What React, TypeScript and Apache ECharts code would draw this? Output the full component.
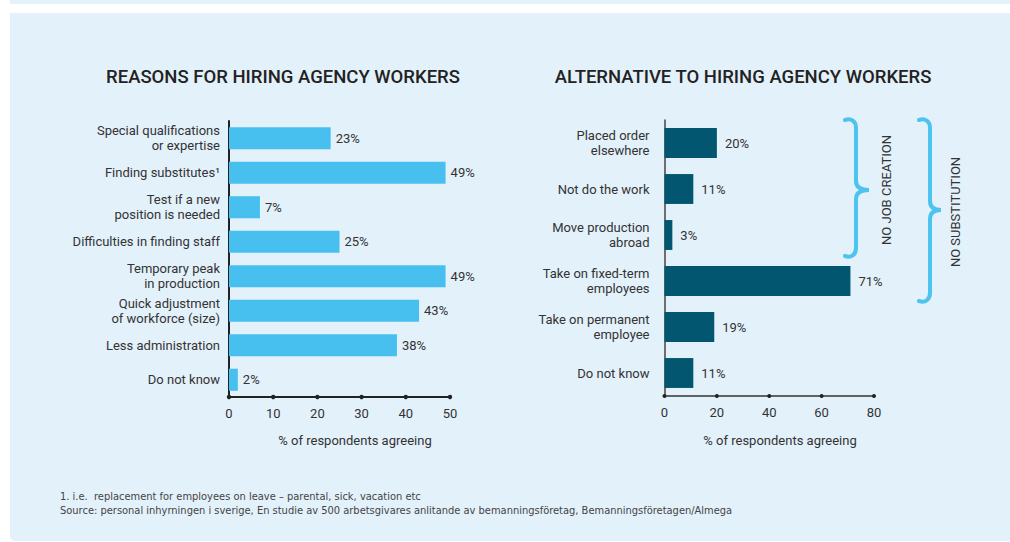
import React, { useEffect, useRef } from "react";
import * as echarts from "echarts";

const leftCategories = [
  "Special qualifications\nor expertise",
  "Finding substitutes¹",
  "Test if a new\nposition is needed",
  "Difficulties in finding staff",
  "Temporary peak\nin production",
  "Quick adjustment\nof workforce (size)",
  "Less administration",
  "Do not know",
];
const leftValues = [23, 49, 7, 25, 49, 43, 38, 2];
const leftTicks = [0, 10, 20, 30, 40, 50];

const rightCategories = [
  "Placed order\nelsewhere",
  "Not do the work",
  "Move production\nabroad",
  "Take on fixed-term\nemployees",
  "Take on permanent\nemployee",
  "Do not know",
];
const rightValues = [20, 11, 3, 71, 19, 11];
const rightTicks = [0, 20, 40, 60, 80];

const leftTitle = "REASONS FOR HIRING AGENCY WORKERS";
const rightTitle = "ALTERNATIVE TO HIRING AGENCY WORKERS";
const axisName = "% of respondents agreeing";
const bracketLabels = ["NO JOB CREATION", "NO SUBSTITUTION"];
const footnotes = [
  "1. i.e.  replacement for employees on leave – parental, sick, vacation etc",
  "Source: personal inhyrningen i sverige, En studie av 500 arbetsgivares anlitande av bemanningsföretag, Bemanningsföretagen/Almega",
];

const FONT = "Roboto";
const TEXT = "#333333";

function bracePath(h: number, m: number, w: number) {
  return `M0,2 C6,0 11,3 11,10 L11,${m - 9} C11,${m - 3} 15,${m} ${w},${m} C15,${m} 11,${m + 3} 11,${m + 9} L11,${h - 10} C11,${h - 3} 6,${h} 0,${h - 2}`;
}

let registered = false;
function registerShapes() {
  if (registered) return;
  registered = true;
  echarts.graphic.registerShape("brace1", echarts.graphic.extendPath(bracePath(140, 72, 24), {}));
  echarts.graphic.registerShape("brace2", echarts.graphic.extendPath(bracePath(185, 92, 22), {}));
}

export default function App() {
  const ref = useRef<HTMLDivElement>(null);
  useEffect(() => {
    if (!ref.current) return;
    registerShapes();
    const chart = echarts.init(ref.current, undefined, { renderer: "svg" });

    const labelStyle = { color: TEXT, fontFamily: FONT, fontSize: 13, lineHeight: 15 };

    const baseGraphics: any[] = [
      { type: "rect", z: -100, shape: { x: 10, y: 0, width: 1000, height: 4 }, style: { fill: "#E3F1FB" } },
      { type: "rect", z: -100, shape: { x: 10, y: 13, width: 1000, height: 528, r: [0, 0, 0, 5] }, style: { fill: "#E3F1FB" } },
      { type: "text", x: 283, y: 77, style: { text: leftTitle, fill: "#222", font: `500 18.5px ${FONT}`, align: "center", verticalAlign: "middle" } },
      { type: "text", x: 743, y: 77, style: { text: rightTitle, fill: "#222", font: `500 18.5px ${FONT}`, align: "center", verticalAlign: "middle" } },
      { type: "text", x: 355, y: 440, style: { text: axisName, fill: TEXT, font: `13px ${FONT}`, align: "center", verticalAlign: "middle" } },
      { type: "text", x: 780, y: 440, style: { text: axisName, fill: TEXT, font: `13px ${FONT}`, align: "center", verticalAlign: "middle" } },
      { type: "brace1", x: 845, y: 118, style: { fill: "none", stroke: "#4DC3F0", lineWidth: 4, lineCap: "round" } },
      { type: "brace2", x: 919, y: 118, style: { fill: "none", stroke: "#4DC3F0", lineWidth: 4, lineCap: "round" } },
      { type: "text", x: 886, y: 190, rotation: Math.PI / 2, style: { text: bracketLabels[0], fill: TEXT, font: `13px ${FONT}`, align: "center", verticalAlign: "middle" } },
      { type: "text", x: 955, y: 212, rotation: Math.PI / 2, style: { text: bracketLabels[1], fill: TEXT, font: `13px ${FONT}`, align: "center", verticalAlign: "middle" } },
      { type: "text", x: 60, y: 496, style: { text: footnotes[0], fill: "#444", font: `11px 'DejaVu Sans Condensed'`, verticalAlign: "middle" } },
      { type: "text", x: 60, y: 510, style: { text: footnotes[1], fill: "#444", font: `11px 'DejaVu Sans Condensed'`, verticalAlign: "middle" } },
    ];

    const option: any = {
      animation: false,
      backgroundColor: "#ffffff",
      grid: [
        { left: 229, width: 221, top: 121, height: 276 },
        { left: 664.5, width: 209.5, top: 120, height: 276 },
      ],
      xAxis: [
        {
          gridIndex: 0, type: "value", min: 0, max: 50, interval: 10,
          axisLine: { show: true, lineStyle: { color: "#222", width: 2 } },
          axisTick: { show: false }, splitLine: { show: false },
          axisLabel: { ...labelStyle, margin: 9 },
        },
        {
          gridIndex: 1, type: "value", min: 0, max: 80, interval: 20,
          axisLine: { show: true, lineStyle: { color: "#333", width: 1.5 } },
          axisTick: { show: false }, splitLine: { show: false },
          axisLabel: { ...labelStyle, margin: 9 },
        },
      ],
      yAxis: [
        {
          gridIndex: 0, type: "category", data: leftCategories, inverse: true,
          axisLine: { show: true, lineStyle: { color: "#222", width: 2 } },
          axisTick: { show: false },
          axisLabel: { ...labelStyle, margin: 9, align: "right" },
        },
        {
          gridIndex: 1, type: "category", data: rightCategories, inverse: true,
          axisLine: { show: true, lineStyle: { color: "#444", width: 1.5 } },
          axisTick: { show: false },
          axisLabel: { ...labelStyle, margin: 15, align: "right" },
        },
      ],
      series: [
        {
          type: "bar", xAxisIndex: 0, yAxisIndex: 0, data: leftValues, barCategoryGap: "36%",
          itemStyle: { color: "#47C0EF" },
          label: { show: true, position: "right", distance: 5, formatter: "{c}%", color: TEXT, fontFamily: FONT, fontSize: 13 },
        },
        {
          type: "bar", xAxisIndex: 1, yAxisIndex: 1, data: rightValues, barCategoryGap: "35%",
          itemStyle: { color: "#02566F" },
          label: { show: true, position: "right", distance: 8, formatter: "{c}%", color: TEXT, fontFamily: FONT, fontSize: 13 },
        },
      ],
      graphic: baseGraphics,
    };
    chart.setOption(option);

    const dots: any[] = [];
    leftTicks.forEach((t) => {
      const p = chart.convertToPixel({ xAxisIndex: 0 }, t) as number;
      dots.push({ type: "circle", shape: { cx: p, cy: 397, r: 2.2 }, style: { fill: "#222" }, z: 10 });
    });
    rightTicks.forEach((t) => {
      const p = chart.convertToPixel({ xAxisIndex: 1 }, t) as number;
      dots.push({ type: "circle", shape: { cx: p, cy: 396, r: 2 }, style: { fill: "#222" }, z: 10 });
    });
    chart.setOption({ graphic: [...baseGraphics, ...dots] });

    return () => chart.dispose();
  }, []);
  return <div ref={ref} style={{ position: "absolute", left: 0, top: 0, width: 1010, height: 542 }} />;
}
